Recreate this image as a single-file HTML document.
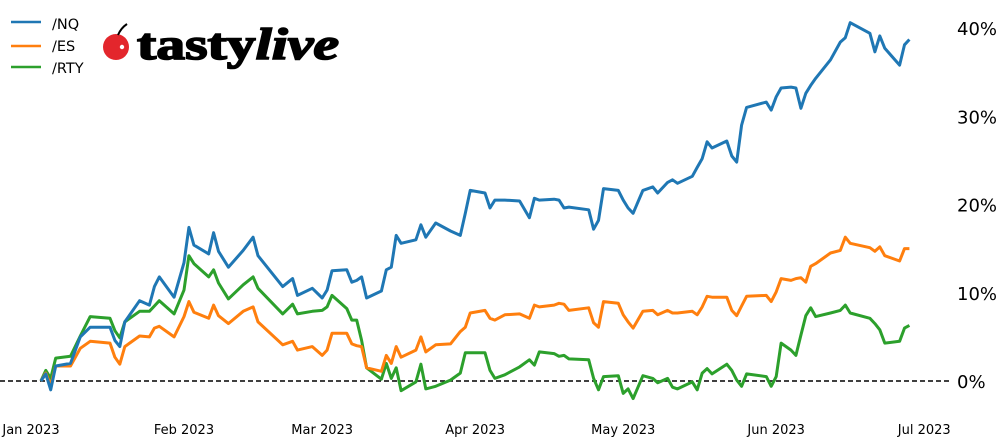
<!DOCTYPE html>
<html><head><meta charset="utf-8">
<style>
html,body{margin:0;padding:0;background:#fff;width:1000px;height:445px;overflow:hidden}
svg{display:block;font-family:"DejaVu Sans","Liberation Sans",sans-serif}
</style></head>
<body>
<svg id="chart" width="1000" height="445">
  <g id="plot"></g>
  <g>
    <g><line x1="11" y1="22" x2="41" y2="22" stroke="#1f77b4" stroke-width="2.5"/><text x="52" y="29" font-size="14.5" fill="#000">/NQ</text></g>
    <g><line x1="11" y1="46" x2="41" y2="46" stroke="#ff7f0e" stroke-width="2.5"/><text x="52" y="51" font-size="14.5" fill="#000">/ES</text></g>
    <g><line x1="11" y1="67" x2="41" y2="67" stroke="#2ca02c" stroke-width="2.5"/><text x="52" y="73" font-size="14.5" fill="#000">/RTY</text></g>
  </g>
  <g>
    <circle cx="116" cy="47" r="13" fill="#e3262c"/>
    <path d="M118 35 Q121 28 127 24" stroke="#000" stroke-width="2" fill="none"/>
    <circle cx="122" cy="47" r="2.2" fill="#fff"/>
    <text x="137" y="59" font-family="'Liberation Serif',serif" font-weight="bold" font-size="44" fill="#000" stroke="#000" stroke-width="1.6" textLength="202" lengthAdjust="spacingAndGlyphs">tasty<tspan font-style="italic">live</tspan></text>
  </g>
</svg>
<script>
const days=[2,3,4,5,8,10,12,16,17,18,19,22,24,25,26,29,31,32,33,36,37,38,40,43,45,46,51,53,54,57,59,60,61,64,65,66,67,68,71,72,73,74,75,78,79,80,82,85,87,88,89,92,93,94,96,99,101,102,103,106,107,108,109,113,114,115,116,119,120,121,122,124,126,127,129,130,131,134,135,136,137,138,141,142,143,144,145,149,150,151,152,154,155,156,157,158,159,162,164,165,166,170,171,172,173,176,177,178];
const nq=[0,0.8,-1.0,1.7,2.0,5.0,6.1,6.1,4.6,3.9,6.7,9.1,8.6,10.7,11.8,9.5,13.4,17.4,15.4,14.4,16.8,14.7,12.9,14.8,16.3,14.2,10.7,11.6,9.7,10.5,9.4,10.3,12.5,12.6,11.2,11.4,11.8,9.4,10.2,12.6,12.9,16.5,15.6,16.0,17.7,16.3,17.9,17.0,16.5,19.0,21.6,21.3,19.6,20.5,20.5,20.4,18.5,20.7,20.5,20.6,20.5,19.6,19.7,19.4,17.2,18.2,21.8,21.6,20.5,19.6,19.0,21.6,22.0,21.3,22.5,22.8,22.4,23.2,24.2,25.2,27.1,26.4,27.2,25.5,24.8,29.0,31.0,31.6,30.7,32.2,33.2,33.3,33.2,30.9,32.6,33.5,34.3,36.4,38.4,38.9,40.6,39.4,37.3,39.1,37.7,35.8,38.1,38.7];
const es=[0,0.9,-0.5,1.7,1.7,3.7,4.5,4.3,2.7,1.9,3.9,5.1,5.0,6.0,6.2,5.0,7.3,9.0,7.8,7.1,8.6,7.4,6.5,7.9,8.4,6.7,4.1,4.5,3.5,3.9,2.9,3.5,5.4,5.4,4.2,4.0,3.9,1.5,1.1,2.9,2.0,3.9,2.7,3.5,5.0,3.3,4.1,4.2,5.6,6.1,7.7,8.0,7.1,6.9,7.5,7.6,7.1,8.6,8.4,8.6,8.8,8.7,8.0,8.3,6.6,6.1,9.0,8.8,7.5,6.7,6.0,7.9,8.0,7.5,8.0,7.7,7.7,7.9,7.5,8.4,9.6,9.5,9.5,8.0,7.4,8.5,9.6,9.7,9.0,10.1,11.6,11.4,11.6,11.7,11.2,13.0,13.3,14.5,14.8,16.3,15.6,15.1,14.7,15.2,14.2,13.6,15.0,15.0];
const rty=[0,1.2,0.3,2.6,2.8,5.1,7.3,7.1,5.7,4.9,6.7,7.9,7.9,8.5,9.1,7.6,10.3,14.2,13.3,11.8,12.6,11.1,9.3,10.9,11.8,10.5,7.6,8.7,7.6,7.9,8.0,8.4,9.7,8.2,6.9,6.9,4.6,1.5,0.2,2.0,0.3,1.5,-1.1,-0.1,1.9,-0.9,-0.6,0.1,0.9,3.2,3.2,3.2,1.2,0.3,0.7,1.6,2.4,1.8,3.3,3.1,2.8,2.9,2.5,2.4,0.3,-1.0,0.5,0.6,-1.4,-0.9,-2.0,0.6,0.3,-0.2,0.3,-0.7,-0.9,-0.1,-1.0,0.9,1.4,0.8,1.9,1.2,0.1,-0.6,0.8,0.5,-0.6,0.5,4.3,3.5,2.9,5.2,7.4,8.3,7.3,7.7,8.0,8.6,7.7,7.1,6.5,5.8,4.3,4.5,6.0,6.3];
const yTicks=[0,10,20,30,40];
const xTickDays=[0,31,59,90,120,151,181];
const xTickLabels=["Jan 2023","Feb 2023","Mar 2023","Apr 2023","May 2023","Jun 2023","Jul 2023"];

const NS="http://www.w3.org/2000/svg";
const X=d=>31+d*4.935;
const Y=v=>381-v*8.825;
const plot=document.getElementById('plot');
function mk(tag,attrs){const e=document.createElementNS(NS,tag);for(const k in attrs)e.setAttribute(k,attrs[k]);return e;}

const zl=mk('line',{x1:0,y1:Y(0),x2:951,y2:Y(0),stroke:'#000','stroke-width':1.5,'stroke-dasharray':'5,3'});


plot.appendChild(zl);

yTicks.forEach(t=>{
  const tx=mk('text',{x:957,y:Y(t)+7,'font-size':18,fill:'#000'});
  tx.textContent=t+'%';
  
  
  plot.appendChild(tx);
});
xTickDays.forEach((d,i)=>{
  const tx=mk('text',{x:X(d),y:434,'font-size':13,fill:'#000','text-anchor':'middle'});
  tx.textContent=xTickLabels[i];
  
  
  plot.appendChild(tx);
});
function line(vals,color,name){
  const pts=vals.map((v,i)=>X(days[i]).toFixed(1)+','+Y(v).toFixed(1)).join(' ');
  const p=mk('polyline',{points:pts,fill:'none',stroke:color,'stroke-width':3,'stroke-linejoin':'round'});
  
  
  plot.appendChild(p);
}
line(rty,'#2ca02c','series-rty');
line(es,'#ff7f0e','series-es');
line(nq,'#1f77b4','series-nq');
</script>
</body></html>
